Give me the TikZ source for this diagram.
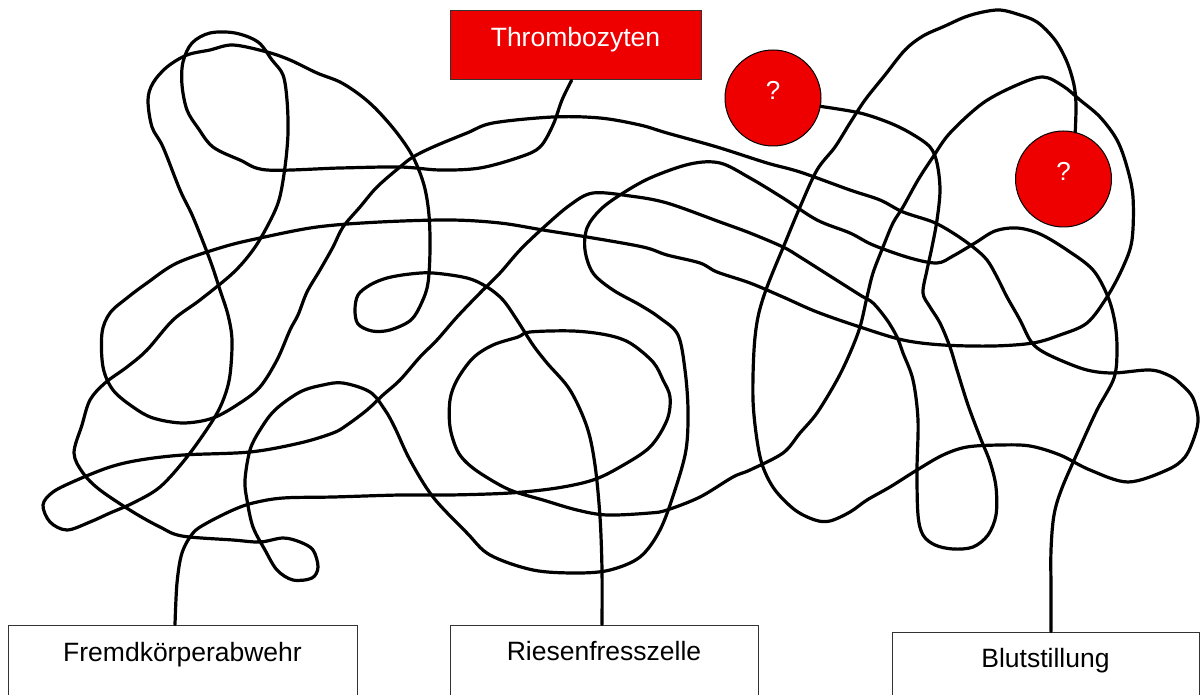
\documentclass[tikz,border=0pt]{standalone}
\usepackage{fontspec}
\setmainfont{Liberation Sans}
\definecolor{pred}{RGB}{238,0,0}
\begin{document}
\begin{tikzpicture}[x=1pt,y=-1pt,
  wire/.style={line width=3.2pt, line join=round, line cap=round},
  lbox/.style={draw=black!80, line width=1pt, rectangle, inner sep=0pt, font=\fontsize{26.5}{30}\selectfont, text height=19pt},
  qball/.style={circle, draw=black, line width=1pt, fill=pred, text=white, minimum size=96pt, inner sep=0pt, font=\fontsize{26}{30}\selectfont, text height=19pt, text depth=16pt}
]
\useasboundingbox (0,0) rectangle (1200,695);
\fill[white] (0,0) rectangle (1200,695);

\node[lbox, fill=pred, text=white, minimum width=251pt, minimum height=69pt, text depth=17pt] (thr) at (575.5,45.5) {Thrombozyten};
\node[qball] (c1) at (773,98) {?};
\node[qball] (c2) at (1063.5,179) {?};
\node[lbox, fill=white, minimum width=349pt, minimum height=74pt, text depth=21pt] (fremd) at (182.5,662) {Fremdkörperabwehr};
\node[lbox, fill=white, minimum width=308pt, minimum height=74pt, text depth=23pt] (riesen) at (604,662) {Riesenfresszelle};
\node[lbox, fill=white, minimum width=307pt, minimum height=74pt, text depth=23pt] (blut) at (1045.5,669) {Blutstillung};

% Thrombozyten -> Blutstillung
\draw[wire] plot[smooth, tension=0.55] coordinates {
([xshift=-4pt]thr.south) (562,100) (553,125) (540,147) (520,157) (480,168) (440,170) (400,167) (340,168) (267,170)
(240,160) (213,147) (198,128) (187,110) (182,85) (183,62) (192,43) (210,33) (235,33) (258,42) (272,60) (283,75)
(287,100) (288,133) (285,167) (279,200) (268,225) (253,250) (233,273) (200,300) (173,320) (147,350) (127,367)
(105,383) (90,400) (82,425) (74,453) (83,473) (100,490) (133,512) (160,527) (182,536) (233,540) (260,542) (283,538)
(300,542) (313,550) (318,567) (312,578) (293,580) (277,570) (265,550) (253,527) (247,500) (245,480) (250,450)
(260,430) (275,410) (300,392) (323,385) (343,383) (370,392) (385,410) (395,428) (410,460) (433,497) (467,533)
(490,555) (533,570) (577,573) (610,570) (640,557) (660,530) (675,490) (686,450) (688,410) (685,370) (678,335)
(660,318) (640,305) (613,290) (593,273) (585,250) (587,228) (600,210) (620,195) (650,178) (690,164) (720,163)
(750,178) (783,198) (817,220) (850,233) (873,245) (910,258) (937,263) (953,256) (975,243) (995,231) (1017,228)
(1040,234) (1067,250) (1093,270) (1108,297) (1115,323) (1117,350) (1114,378) (1097,410) (1080,447) (1062,488)
(1054,515) (1051,550) (1051,590) ([xshift=5.5pt]blut.north)};

% ? (1) -> Riesenfresszelle
\draw[wire] plot[smooth, tension=0.55] coordinates {
(c1.-10) (860,113) (890,123) (912,134) (930,147) (937,163) (940,190) (937,220) (932,247) (927,270) (923,293)
(930,307) (940,323) (950,347) (957,370) (968,405) (980,437) (990,462) (996,487) (996,515) (988,535) (973,547)
(953,549) (935,545) (923,535) (918,515) (917,470) (918,420) (913,380) (903,353) (897,337) (887,320) (873,303)
(860,295) (830,276) (800,257) (783,247) (750,233) (720,222) (667,203) (630,196) (593,193) (570,205) (543,228)
(520,250) (500,273) (480,293) (457,317) (437,340) (420,357) (400,380) (383,395) (367,410) (347,425) (333,433)
(300,443) (250,452) (183,455) (140,460) (110,467) (77,480) (53,492) (43,505) (50,522) (67,530) (90,522) (110,513)
(133,503) (160,487) (187,457) (213,420) (224,398) (230,375) (232,340) (228,315) (220,290) (210,260) (193,217)
(180,190) (163,147) (152,127) (148,100) (153,83) (167,67) (187,55) (210,50) (233,45) (267,52) (290,60) (317,73)
(340,82) (360,95) (377,110) (397,133) (413,157) (424,185) (429,215) (430,250) (428,283) (422,302) (411,320)
(390,330) (372,331) (358,324) (355,310) (358,295) (370,285) (387,278) (410,274) (433,273) (467,278) (487,287)
(503,300) (517,320) (533,345) (547,363) (570,390) (587,427) (595,465) (600,517) (602,570) ([xshift=-2pt]riesen.north)};

% ? (2) -> Fremdkoerperabwehr
\draw[wire] plot[smooth, tension=0.55] coordinates {
(c2.76) (1076,105) (1074,85) (1067,62) (1055,40) (1037,22) (1017,14) (1000,10) (983,12) (965,17) (945,26)
(923,36) (905,50) (885,75) (865,100) (850,123) (835,147) (817,170) (800,207) (785,243) (767,287) (758,317)
(754,350) (753,400) (757,440) (763,467) (775,490) (795,510) (815,520) (830,521) (850,512) (867,500) (890,487)
(917,470) (943,455) (967,447) (1000,445) (1030,446) (1060,455) (1090,470) (1128,482) (1167,470) (1185,457)
(1195,435) (1198,418) (1193,398) (1183,386) (1170,376) (1150,370) (1113,373) (1087,370) (1060,360) (1040,350)
(1030,340) (1020,320) (1007,297) (997,277) (987,260) (973,247) (953,233) (933,222) (903,212) (880,200) (850,190)
(800,172) (767,163) (717,147) (667,133) (640,125) (600,118) (553,117) (493,123) (467,133) (433,147) (413,157)
(400,167) (377,187) (360,207) (343,227) (333,247) (320,270) (307,292) (298,315) (290,330) (277,360) (260,387)
(240,403) (213,418) (183,423) (153,418) (133,407) (113,390) (103,367) (102,333) (110,313) (127,298) (147,283)
(177,263) (223,247) (260,238) (317,227) (380,222) (450,220) (500,223) (543,230) (587,237) (643,247) (667,255)
(700,263) (717,272) (750,283) (783,297) (817,312) (860,327) (903,340) (943,345) (993,346) (1033,343) (1060,335)
(1087,323) (1107,297) (1123,267) (1132,240) (1133,197) (1127,167) (1117,140) (1100,117) (1080,100) (1063,86)
(1043,77) (1017,85) (983,103) (950,133) (933,157) (918,180) (903,207) (893,223) (883,247) (873,273) (867,297)
(860,327) (850,353) (837,380) (817,413) (800,433) (783,453) (750,470) (733,477) (700,497) (667,510) (650,513)
(607,515) (577,510) (543,500) (510,490) (483,475) (467,463) (457,450) (450,427) (450,400) (457,380) (473,358)
(493,345) (518,337) (530,332) (573,331) (607,335) (630,343) (653,362) (663,380) (670,397) (667,420) (650,447)
(620,467) (593,480) (557,488) (510,493) (450,495) (400,495) (333,497) (283,498) (253,503) (233,510) (207,523)
(193,533) (182,553) (177,583) ([xshift=-7.5pt]fremd.north)};
\end{tikzpicture}
\end{document}
